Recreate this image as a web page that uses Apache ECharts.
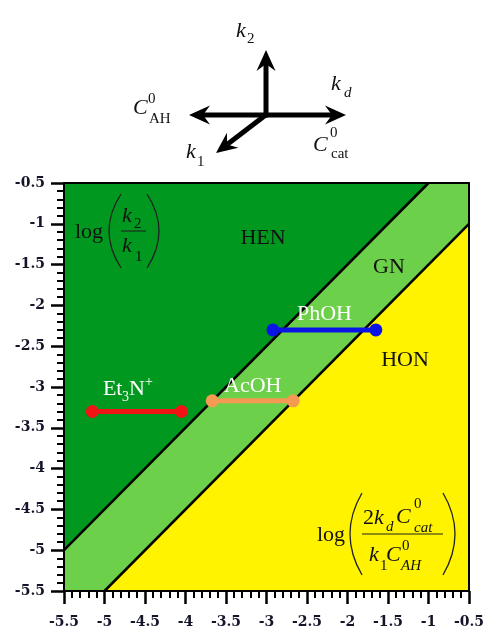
<!DOCTYPE html>
<html>
<head>
<meta charset="utf-8">
<script src="https://cdn.jsdelivr.net/npm/echarts@6/dist/echarts.min.js"></script>
<style>
  html, body { margin: 0; padding: 0; background: #ffffff; }
  #chart { width: 488px; height: 633px; }
</style>
</head>
<body>
<div id="chart"></div>
<script>
// Axis range for both log axes
const axisMin = -5.5;
const axisMax = -0.5;
const axisStep = 0.5;

// Regime boundaries (x = log(2 kd C0cat / k1 C0AH), y = log(k2 / k1))
const upperBoundary = [[-5.5, -5.0], [-1.0, -0.5]];   // HEN | GN
const lowerBoundary = [[-5.0, -5.5], [-0.5, -1.0]];   // GN | HON

// Regimes
const regimeNames = ['HEN', 'GN', 'HON'];

// Acid systems: horizontal ranges at fixed log(k2/k1)
const systemNames = ['Et3N+', 'AcOH', 'PhOH'];
const systemY = [-3.30, -3.17, -2.30];
const systemXStart = [-5.15, -3.67, -2.92];
const systemXEnd = [-4.05, -2.67, -1.65];

const SERIF = '"Liberation Serif", "DejaVu Serif", serif';
const TICK_FONT = '"DejaVu Serif", "Liberation Serif", serif';
const regimeColors = ['#00981f', '#6dd04a', '#fff300'];
const systemColors = ['#f01414', '#f59a52', '#0a14e6'];

// Polygons for the three regimes, built from the boundaries and the axis limits
const regimePolygons = [
  [upperBoundary[0], upperBoundary[1], [axisMin, axisMax]],
  [[axisMin, axisMin], upperBoundary[0], upperBoundary[1], [axisMax, axisMax], lowerBoundary[1], lowerBoundary[0]],
  [lowerBoundary[0], lowerBoundary[1], [axisMax, axisMin]]
];

const chart = echarts.init(document.getElementById('chart'), null, { renderer: 'canvas' });

function tickLabel(margin) {
  return {
    show: true,
    margin: margin,
    color: '#15152a',
    fontFamily: TICK_FONT,
    fontWeight: 'bold',
    fontSize: 14,
    showMinLabel: true,
    showMaxLabel: true,
    formatter: v => String(v)
  };
}

function valueAxis(extra) {
  return Object.assign({
    type: 'value',
    min: axisMin,
    max: axisMax,
    interval: axisStep,
    z: 5,
    splitLine: { show: false },
    axisLine: { show: true, onZero: false, lineStyle: { color: '#000', width: 2 } },
    axisTick: { show: true, length: 13, lineStyle: { color: '#000', width: 2.5 } },
    minorTick: { show: true, splitNumber: 5, length: 7, lineStyle: { color: '#000', width: 2 } }
  }, extra || {});
}

function frameAxis(extra) {
  return Object.assign({
    type: 'value',
    min: axisMin,
    max: axisMax,
    z: 5,
    splitLine: { show: false },
    axisLine: { show: true, onZero: false, lineStyle: { color: '#000', width: 2 } },
    axisTick: { show: false },
    axisLabel: { show: false }
  }, extra || {});
}

const series = [
  {
    type: 'custom',
    name: 'regimes',
    silent: true,
    z: 1,
    data: regimeNames.map((n, i) => [i]),
    renderItem: function (params, api) {
      const poly = regimePolygons[params.dataIndex];
      return {
        type: 'polygon',
        shape: { points: poly.map(p => api.coord(p)) },
        style: { fill: regimeColors[params.dataIndex], stroke: null }
      };
    }
  },
  {
    type: 'line',
    name: 'upper boundary',
    data: upperBoundary,
    symbol: 'none',
    silent: true,
    z: 3,
    lineStyle: { color: '#000', width: 2.5 }
  },
  {
    type: 'line',
    name: 'lower boundary',
    data: lowerBoundary,
    symbol: 'none',
    silent: true,
    z: 3,
    lineStyle: { color: '#000', width: 2.5 }
  }
];

systemNames.forEach((name, i) => {
  series.push({
    type: 'line',
    name: name,
    data: [[systemXStart[i], systemY[i]], [systemXEnd[i], systemY[i]]],
    symbol: 'circle',
    symbolSize: 13,
    z: 4,
    silent: true,
    itemStyle: { color: systemColors[i] },
    lineStyle: { color: systemColors[i], width: 5 }
  });
});

chart.setOption({
  animation: false,
  backgroundColor: '#ffffff',
  grid: { left: 64, right: 19, top: 183, bottom: 42, outerBoundsMode: 'none', containLabel: false },
  xAxis: [
    valueAxis({ position: 'bottom', axisLabel: tickLabel(24) }),
    frameAxis({ position: 'top' })
  ],
  yAxis: [
    valueAxis({ position: 'left', axisLabel: tickLabel(19) }),
    frameAxis({ position: 'right' })
  ],
  series: series
});

// ---------- annotations ----------
function txt(x, y, s, size, opts) {
  opts = opts || {};
  const align = opts.align || 'left';
  return {
    type: 'text',
    z: 10,
    silent: true,
    style: {
      text: s,
      x: x,
      y: y,
      font: (opts.italic ? 'italic ' : '') + size + 'px ' + SERIF,
      fill: opts.color || '#111',
      textAlign: align,
      align: align,
      textVerticalAlign: 'middle',
      verticalAlign: 'middle'
    }
  };
}

function paren(x1, y1, cx, x2, y2) {
  return {
    type: 'bezierCurve',
    z: 10,
    silent: true,
    shape: { x1: x1, y1: y1, x2: x2, y2: y2, cpx1: cx, cpy1: (y1 + y2) / 2 },
    style: { stroke: '#222', lineWidth: 1.3, fill: null }
  };
}

function hline(x1, x2, y) {
  return {
    type: 'line', z: 10, silent: true,
    shape: { x1: x1, y1: y, x2: x2, y2: y },
    style: { stroke: '#222', lineWidth: 1.1 }
  };
}

function arrow(x0, y0, x1, y1) {
  const dx = x1 - x0, dy = y1 - y0;
  const len = Math.sqrt(dx * dx + dy * dy);
  const ux = dx / len, uy = dy / len;
  const nx = -uy, ny = ux;
  const L = 21, W = 9.5, notch = 14;
  const bx = x1 - ux * L, by = y1 - uy * L;
  return [
    {
      type: 'line', z: 10, silent: true,
      shape: { x1: x0, y1: y0, x2: x1 - ux * notch, y2: y1 - uy * notch },
      style: { stroke: '#000', lineWidth: 5, lineCap: 'butt' }
    },
    {
      type: 'polygon', z: 10, silent: true,
      shape: {
        points: [
          [x1, y1],
          [bx + nx * W, by + ny * W],
          [x1 - ux * notch, y1 - uy * notch],
          [bx - nx * W, by - ny * W]
        ]
      },
      style: { fill: '#000' }
    }
  ];
}

const els = [];

// direction diagram above the plot
const cx0 = 266, cy0 = 115;
els.push(...arrow(cx0, cy0 + 2, cx0, 50));
els.push(...arrow(cx0 - 2, cy0, 346, cy0));
els.push(...arrow(cx0 + 2, cy0, 189, cy0));
els.push(...arrow(cx0 + 1, cy0 - 1, 216, 153));

els.push(txt(236, 31, 'k', 22, { italic: true }));
els.push(txt(247, 39, '2', 15));
els.push(txt(331, 84, 'k', 22, { italic: true }));
els.push(txt(344, 93, 'd', 15, { italic: true }));
els.push(txt(133, 108, 'C', 22, { italic: true }));
els.push(txt(148, 99, '0', 15));
els.push(txt(149, 119, 'AH', 15));
els.push(txt(186, 152, 'k', 22, { italic: true }));
els.push(txt(197, 162, '1', 15));
els.push(txt(313, 145, 'C', 22, { italic: true }));
els.push(txt(330, 133, '0', 15));
els.push(txt(331, 154, 'cat', 15));

// y-axis quantity: log(k2/k1)
els.push(txt(75, 232, 'log', 22));
els.push(paren(121, 194, 97, 121, 268));
els.push(paren(147, 194, 171, 147, 268));
els.push(hline(121, 146, 231));
els.push(txt(122, 216, 'k', 22, { italic: true }));
els.push(txt(134, 224, '2', 15));
els.push(txt(122, 246, 'k', 22, { italic: true }));
els.push(txt(135, 257, '1', 15));

// x-axis quantity: log(2 kd C0cat / k1 C0AH)
els.push(txt(317, 535, 'log', 22));
els.push(paren(362, 493, 338, 362, 575));
els.push(paren(443, 493, 467, 443, 575));
els.push(hline(362, 443, 534));
els.push(txt(363, 518, '2', 22));
els.push(txt(374, 518, 'k', 22, { italic: true }));
els.push(txt(386, 527, 'd', 15, { italic: true }));
els.push(txt(396, 517, 'C', 22, { italic: true }));
els.push(txt(414, 504, '0', 15));
els.push(txt(414, 528, 'cat', 15, { italic: true }));
els.push(txt(369, 555, 'k', 22, { italic: true }));
els.push(txt(380, 566, '1', 15));
els.push(txt(386, 555, 'C', 22, { italic: true }));
els.push(txt(402, 546, '0', 15));
els.push(txt(401, 566, 'AH', 15, { italic: true }));

// regime names
els.push(txt(263, 238, regimeNames[0], 22, { align: 'center' }));
els.push(txt(389, 267, regimeNames[1], 22, { align: 'center' }));
els.push(txt(405, 360, regimeNames[2], 22, { align: 'center' }));

// system names, placed above each range
const mid = i => chart.convertToPixel({ gridIndex: 0 }, [(systemXStart[i] + systemXEnd[i]) / 2, systemY[i]]);
const pEt = mid(0), pAc = mid(1), pPh = mid(2);
const white = { color: '#ffffff' };
// Et3N+ : "Et", subscript 3, "N", superscript +
const etLeft = pEt[0] - 34, etY = pEt[1] - 22;
els.push(txt(etLeft, etY, 'Et', 22, white));
els.push(txt(etLeft + 19, etY + 8, '3', 14, white));
els.push(txt(etLeft + 26, etY, 'N', 22, white));
els.push(txt(etLeft + 42, etY - 7, '+', 14, white));
els.push(txt(pAc[0], pAc[1] - 15, 'AcOH', 22, Object.assign({ align: 'center' }, white)));
els.push(txt(pPh[0], pPh[1] - 16, 'PhOH', 22, Object.assign({ align: 'center' }, white)));

chart.setOption({ graphic: { elements: els } });
</script>
</body>
</html>
